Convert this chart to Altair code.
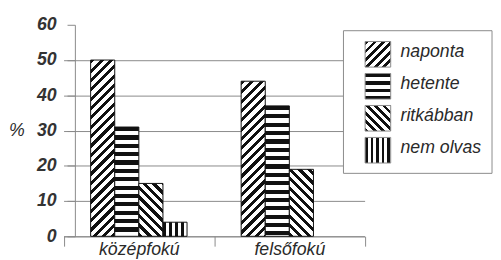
import json
import altair as alt
import pandas as pd

# ---------------- data ----------------
categories = ["középfokú", "felsőfokú"]
series = ["naponta", "hetente", "ritkábban", "nem olvas"]
values_kozepfoku = [50, 31, 15, 4]
values_felsofoku = [44, 37, 19, None]
y_ticks = [0, 10, 20, 30, 40, 50, 60]

# ---------------- style ----------------
FONT = "Liberation Sans"
TEXT = "#2a2a2a"
GRID = "#8a8a8a"
INK = "#111111"
PAPER = "#ffffff"
PLOT_W, PLOT_H = 294, 215
Y_MAX = 60
X_RANGE = [-11.5, 294.5]
BAR_W = 24.5
OFFSET_RANGE = [27.5, 27.5 + BAR_W * len(series)]

# pattern kind, period (px), ink fraction
patterns = {
    "naponta": ("/", 9.5, 0.45),
    "hetente": ("-", 8.5, 0.5),
    "ritkábban": ("\\", 9.5, 0.45),
    "nem olvas": ("|", 6.2, 0.5),
}


def stripe_gradient(kind, w, h, period, frac):
    if kind == "-":
        L = h
        coords = dict(x1=1, y1=0, x2=1, y2=1)
    elif kind == "|":
        L = w
        coords = dict(x1=0, y1=0, x2=1, y2=0)
    elif kind == "/":
        L = w + h
        s = (w + h) / (w * w + h * h)
        coords = dict(x1=0, y1=0, x2=s * w, y2=s * h)
    else:
        L = w + h
        s = (w + h) / (w * w + h * h)
        coords = dict(x1=0, y1=1, x2=s * w, y2=1 - s * h)
    stops = []
    k = 0
    while k * period < L:
        a = k * period / L
        b = min((k + frac) * period / L, 1.0)
        c = min((k + 1) * period / L, 1.0)
        stops += [(a, INK), (b, INK), (b, PAPER), (c, PAPER)]
        k += 1
    return {
        "gradient": "linear",
        "stops": [{"offset": round(o, 5), "color": col} for o, col in stops],
        **{key: round(v, 5) for key, v in coords.items()},
    }


# bar table
rows = []
for cat, vals in zip(categories, [values_kozepfoku, values_felsofoku]):
    for s, v in zip(series, vals):
        if v is None:
            continue
        rows.append({"cat": cat, "series": s, "value": v, "key": f"{cat}|{s}"})
bars_df = pd.DataFrame(rows)

conds = []
for r in rows:
    kind, per, frac = patterns[r["series"]]
    h = r["value"] / Y_MAX * PLOT_H
    conds.append({"test": f"datum.key === {json.dumps(r['key'], ensure_ascii=False)}",
                  "value": stripe_gradient(kind, BAR_W, h, per, frac)})
bar_fill = alt.FillValue(value=conds[-1]["value"], condition=conds[:-1])

legend_df = pd.DataFrame({"series": series})
SYM = 26
lconds = []
for s in series:
    kind, per, frac = patterns[s]
    lconds.append({"test": f"datum.series === {json.dumps(s, ensure_ascii=False)}",
                   "value": stripe_gradient(kind, SYM, SYM, per * 0.9, frac)})
legend_fill = alt.FillValue(value=lconds[-1]["value"], condition=lconds[:-1])

# ---------------- chart ----------------
bars = alt.Chart(bars_df).mark_bar(stroke=INK, strokeWidth=1).encode(
    x=alt.X(
        "cat:N",
        sort=categories,
        scale=alt.Scale(domain=categories, range=X_RANGE, paddingInner=0, paddingOuter=0),
        axis=alt.Axis(
            title=None, labelAngle=0, tickBand="extent", tickSize=10, labelPadding=9,
            labelBaseline="alphabetic", labelFont=FONT, labelFontSize=18,
            labelFontStyle="italic", labelColor=TEXT, domainColor=GRID, tickColor=GRID,
            grid=False,
        ),
    ),
    xOffset=alt.XOffset("series:N", sort=series,
                        scale=alt.Scale(domain=series, range=OFFSET_RANGE,
                                        paddingInner=0, paddingOuter=0)),
    y=alt.Y(
        "value:Q",
        scale=alt.Scale(domain=[0, Y_MAX], nice=False),
        axis=alt.Axis(
            values=y_ticks, title="%", titleAngle=0, titleX=-59.5, titleY=107.5,
            titleAlign="center", titleBaseline="middle", titleFont=FONT, titleFontSize=18,
            titleFontStyle="italic", titleFontWeight="normal", titleColor=TEXT,
            labelFont=FONT, labelFontSize=18, labelFontStyle="italic",
            labelFontWeight="bold", labelColor="#333333",
            labelPadding=11, tickSize=8, tickColor=GRID, domainColor=GRID,
            gridColor=GRID,
            gridOpacity={"condition": {"test": "datum.value >= 60", "value": 0}, "value": 1},
        ),
    ),
    fill=bar_fill,
)

box = alt.Chart(alt.Data(values=[{"b": 1}])).mark_rect(
    fill="white", stroke=GRID, strokeWidth=1
).encode(x=alt.value(273), x2=alt.value(424), y=alt.value(6), y2=alt.value(151))

legend_scale = alt.Scale(domain=series, range=[13.75, 143.75], paddingInner=0.2, paddingOuter=0.1)

symbols = alt.Chart(legend_df).mark_rect(stroke=GRID, strokeWidth=1).encode(
    x=alt.value(295), x2=alt.value(321),
    y=alt.Y("series:N", sort=series, scale=legend_scale, axis=None),
    fill=legend_fill,
)

labels = alt.Chart(legend_df).mark_text(
    align="left", baseline="alphabetic", dy=3, font=FONT, fontSize=18,
    fontStyle="italic", color=TEXT
).encode(
    x=alt.value(331),
    y=alt.Y("series:N", sort=series, scale=legend_scale, axis=None),
    text="series:N",
)

chart = (
    alt.layer(bars, box, symbols, labels)
    .resolve_scale(y="independent")
    .properties(
        width=PLOT_W, height=PLOT_H,
        padding={"left": 68, "top": 15, "right": 131, "bottom": 22},
        autosize=alt.AutoSizeParams(type="none"),
        background="white",
    )
    .configure_view(strokeWidth=0)
)

chart.save("out.html", embed_options={"renderer": "svg", "actions": False})
